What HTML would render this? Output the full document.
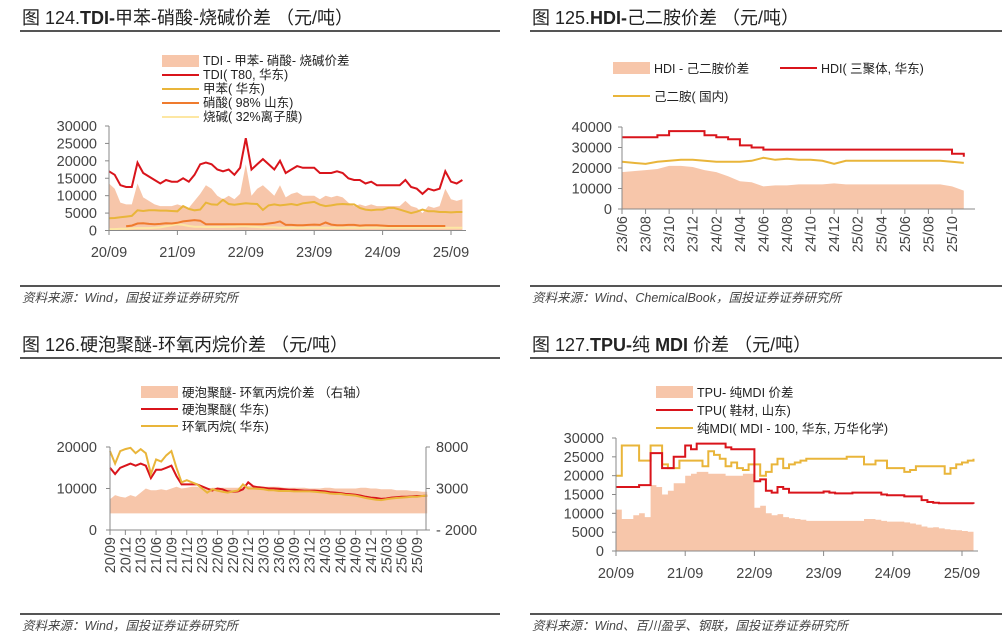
<!DOCTYPE html>
<html><head><meta charset="utf-8">
<style>
html,body{margin:0;padding:0;background:#fff;}
svg{display:block;font-family:"Liberation Sans","Noto Sans CJK SC",sans-serif;}
.t{font-size:18px;fill:#222;}
.src{font-size:12.5px;fill:#444;font-style:italic;}
.tick{font-size:14.5px;fill:#444;}
.lg{font-size:12.5px;fill:#222;}
</style></head>
<body>
<svg id="c" width="1002" height="640" viewBox="0 0 1002 640">
<g><text class="t" x="22" y="24">图 124.<tspan font-weight="bold">TDI-</tspan>甲苯-硝酸-烧碱价差 （元/吨）</text><line x1="20" y1="31" x2="500" y2="31" stroke="#555" stroke-width="2"/></g>
<g><text class="t" x="532" y="24">图 125.<tspan font-weight="bold">HDI-</tspan>己二胺价差 （元/吨）</text><line x1="530" y1="31" x2="1002" y2="31" stroke="#555" stroke-width="2"/></g>
<g><text class="t" x="22" y="351">图 126.硬泡聚醚-环氧丙烷价差 （元/吨）</text><line x1="20" y1="358" x2="500" y2="358" stroke="#555" stroke-width="2"/></g>
<g><text class="t" x="532" y="351">图 127.<tspan font-weight="bold">TPU-</tspan>纯 <tspan font-weight="bold">MDI</tspan> 价差 （元/吨）</text><line x1="530" y1="358" x2="1002" y2="358" stroke="#555" stroke-width="2"/></g>
<g><line x1="20" y1="286" x2="500" y2="286" stroke="#555" stroke-width="2"/><text class="src" x="22" y="302">资料来源：Wind，国投证券证券研究所</text></g>
<g><line x1="530" y1="286" x2="1002" y2="286" stroke="#555" stroke-width="2"/><text class="src" x="532" y="302">资料来源：Wind、ChemicalBook，国投证券证券研究所</text></g>
<g><line x1="20" y1="614" x2="500" y2="614" stroke="#555" stroke-width="2"/><text class="src" x="22" y="630">资料来源：Wind，国投证券证券研究所</text></g>
<g><line x1="530" y1="614" x2="1002" y2="614" stroke="#555" stroke-width="2"/><text class="src" x="532" y="630">资料来源：Wind、百川盈孚、钢联，国投证券证券研究所</text></g>
</svg>
<script>
// ===== Panel 124 data (monthly 20/09 .. 25/11) =====
const p1Ticks=[0,5000,10000,15000,20000,25000,30000];
const p1XLabels=["20/09","21/09","22/09","23/09","24/09","25/09"];
const p1Spread=[13500,12000,8000,7500,7500,13500,9500,8500,7500,7000,7000,7000,7500,7000,6500,8500,10500,13000,12000,10000,9000,10000,9000,10500,19000,10000,12000,13000,11500,10000,13000,9500,10500,11000,10000,10000,10000,9000,10000,9500,10000,9500,8000,7000,7500,7000,7500,7000,7000,7000,7000,7000,8500,7000,6500,5000,7000,6500,7000,12000,9000,8500,9000];
const p1TDI=[17000,16000,13000,12500,12500,19500,16500,15500,14500,13500,14500,14000,14000,15000,14000,16000,19000,19500,19000,17500,17000,17500,16000,18000,26500,17500,19000,20500,19000,17500,20000,16500,17500,18500,18000,18000,18000,16500,16500,16500,17000,16500,15000,14500,14500,13500,14000,13000,13000,13000,13000,13000,14500,12500,12000,10500,12000,11500,12000,17000,14000,13500,14500];
const p1Toluene=[3500,3600,3800,4000,4200,5800,5600,5800,5800,5700,5700,5600,5500,7000,6200,5800,6000,8000,7500,7400,8800,7600,7400,7600,7800,7700,7600,5900,7200,7500,7200,7400,7600,7300,7800,8000,8200,7400,7000,7200,7500,7600,7500,7500,6500,6000,5800,6000,6000,6500,6500,6000,5500,5000,5400,6000,5500,5500,5300,5300,5200,5300,5300];
const p1Nitric=[null,null,null,1200,1400,2000,2100,1900,1800,1900,2100,2000,2200,2600,2800,3000,2800,1800,1800,1800,1800,1800,1800,1800,1800,1800,1800,1800,2000,2200,2600,1600,1600,1500,1500,1600,1700,1600,2300,1700,1500,1500,1600,1600,1400,1500,1500,1500,1400,1300,1300,1300,1300,1300,1300,1300,1300,1300,1300,1300,null,null,null];
const p1Caustic=[400,400,500,500,600,700,700,700,800,900,1200,1500,1800,1600,1300,1100,1100,1000,1000,1000,1000,1100,1100,1200,1200,1100,1000,900,900,900,800,800,800,800,800,800,800,800,800,800,800,800,800,800,800,800,800,800,800,800,800,800,800,800,800,800,800,800,800,800,800,800,800];
// ===== Panel 125 data (monthly 23/06 .. 25/11) =====
const p2Ticks=[0,10000,20000,30000,40000];
const p2XLabels=["23/06","23/08","23/10","23/12","24/02","24/04","24/06","24/08","24/10","24/12","25/02","25/04","25/06","25/08","25/10"];
const p2Spread=[18000,18500,19000,19500,21000,21000,20500,19000,18000,16000,13500,13000,11000,11500,11500,12000,12000,12000,12500,12000,12000,12000,12000,12000,12000,12000,12000,12000,11000,9000];
const p2HDI=[35000,35000,35000,36000,38000,38000,38000,36000,35000,34000,31000,30000,29000,29000,29000,29000,29000,29000,29000,29000,29000,29000,29000,29000,29000,29000,29000,29000,27000,25500];
const p2HMDA=[23000,22500,22000,23000,23500,24000,24000,23500,23000,23000,23000,23500,25000,24000,24500,24000,24000,23500,22000,23500,23500,23500,23500,23500,23500,23500,23500,23500,23000,22500];
// ===== Panel 126 data (monthly 20/09 .. 25/11) =====
const p3LeftTicks=[0,10000,20000];
const p3RightTicks=[-2000,3000,8000];
const p3XLabels=["20/09","20/12","21/03","21/06","21/09","21/12","22/03","22/06","22/09","22/12","23/03","23/06","23/09","23/12","24/03","24/06","24/09","24/12","25/03","25/06","25/09"];
const p3Spread=[1700,2200,2000,1900,2200,2000,2500,3000,2800,2800,2900,2800,3000,3200,3000,3100,3200,3200,3000,3000,3100,3100,3100,3100,3100,3100,3200,3300,3300,3300,3200,3200,3200,3200,3100,3100,3100,3100,3100,3000,3000,3000,3100,3100,3000,3000,3000,3000,3000,3100,3100,3000,3000,2900,2900,2900,2800,2800,2800,2700,2700,2600,2600];
const p3Polyether=[15000,13500,15000,15500,16000,15500,16000,15500,12500,14500,14500,15000,15500,13000,11000,11000,11000,11000,10500,10000,9500,10000,9800,9300,9200,9300,9800,11500,10500,10300,10200,10000,10000,9900,9800,9700,9700,9600,9500,9500,9500,9400,9300,9100,9000,8900,8700,8600,8500,8300,8000,7800,7700,7500,7600,7800,7900,8000,8000,8100,8200,8200,8300];
const p3PO=[19000,16000,19000,19500,19800,18500,19500,18500,13500,17000,16500,18000,19000,15000,11500,12000,11500,11000,10000,9000,9800,9500,9200,9000,9300,9500,11000,10000,10000,9900,9800,9600,9600,9400,9400,9400,9300,9300,9300,9300,9200,9100,9000,8800,8700,8700,8500,8400,8300,8000,7700,7500,7300,7200,7400,7600,7700,7800,7900,8000,8000,8200,8300];
// ===== Panel 127 data (monthly 20/09 .. 25/11) =====
const p4Ticks=[0,5000,10000,15000,20000,25000,30000];
const p4XLabels=["20/09","21/09","22/09","23/09","24/09","25/09"];
const p4Spread=[11000,8500,8500,9500,10000,9000,17500,17000,15000,16000,18000,18000,20000,20500,21000,21000,20500,20500,20500,20000,20000,20000,20500,20500,11500,12000,10000,9500,9800,9000,8700,8500,8300,8000,8000,8000,8000,8000,8000,8000,8000,8000,8000,8500,8500,8300,8000,7800,7800,7800,7600,7300,7000,6500,6200,6300,6000,5800,5600,5500,5300,5100,5000];
const p4TPU=[17000,17000,17000,17000,17500,17500,26000,26000,22000,22000,25000,25000,28000,27000,28500,28500,28500,28500,28500,27500,27000,27000,27000,27000,18500,19000,16000,15500,17000,16500,15500,15500,15500,15500,15500,15500,15800,15500,15300,15300,15300,15500,15500,15500,15500,15500,15000,14800,14800,14800,14500,14500,14500,13500,13000,12800,12700,12700,12700,12700,12700,12700,12500];
const p4MDI=[20000,28000,28000,28000,24000,24000,28000,28000,23000,22000,22000,24000,24000,24000,24000,22500,26500,25500,24500,22500,23500,22000,21500,23000,23000,20000,21000,23000,24500,22000,23000,23500,24000,24500,24500,24500,24500,24500,24500,24500,25000,25000,25000,23000,23000,24000,24000,22000,22000,22000,21000,21500,22500,22500,22500,22500,22500,20500,22000,23000,23500,24000,24500];

const NS="http://www.w3.org/2000/svg";
const svg=document.getElementById('c');
function el(tag,attrs,parent){const e=document.createElementNS(NS,tag);for(const k in attrs)e.setAttribute(k,attrs[k]);(parent||svg).appendChild(e);return e;}
function lin(d0,d1,r0,r1){return v=>r0+(v-d0)*(r1-r0)/(d1-d0);}
function pathFor(vals,xs,ys,step){let d="",on=false,prevY=null;vals.forEach((v,i)=>{if(v==null){on=false;return;}const x=xs(i),y=ys(v);if(!on){d+="M"+x.toFixed(1)+","+y.toFixed(1);on=true;}else{if(step)d+="L"+x.toFixed(1)+","+prevY.toFixed(1);d+="L"+x.toFixed(1)+","+y.toFixed(1);}prevY=y;});return d;}
function areaFor(vals,xs,ys,base,step){let d="M"+xs(0).toFixed(1)+","+base;let prevY=null;vals.forEach((v,i)=>{const x=xs(i),y=ys(v);if(step&&prevY!=null)d+="L"+x.toFixed(1)+","+prevY.toFixed(1);d+="L"+x.toFixed(1)+","+y.toFixed(1);prevY=y;});d+="L"+xs(vals.length-1).toFixed(1)+","+base+"Z";return d;}
const AREA="#f7c6aa",RED="#d9141b",YEL="#e9b53a",ORG="#ef7b2e",LYEL="#fde7a3";

// ---------- Panel 124 ----------
(function(){
 const g=el('g',{});
 
 
 const xs=lin(0,60,109,451), ys=lin(0,30000,230.5,126);
 const a=el('path',{d:areaFor(p1Spread,xs,ys,230.5,false),fill:AREA},g);
 
 [[p1Caustic,LYEL,'caustic-soda-line'],[p1Nitric,ORG,'nitric-acid-line'],[p1Toluene,YEL,'toluene-line'],[p1TDI,RED,'tdi-price-line']].forEach(s=>{
  const p=el('path',{d:pathFor(s[0],xs,ys,false),fill:'none',stroke:s[1],'stroke-width':2},g);
  });
 el('line',{x1:109,y1:126,x2:109,y2:231,stroke:'#888'},g);
 el('line',{x1:109,y1:230.5,x2:466,y2:230.5,stroke:'#888'},g);
 p1Ticks.forEach(t=>{el('line',{x1:105,x2:109,y1:ys(t),y2:ys(t),stroke:'#888'},g);const tx=el('text',{class:'tick',x:97,y:ys(t)+5,'text-anchor':'end'},g);tx.textContent=t;
  });
 p1XLabels.forEach((l,i)=>{const x=xs(i*12);el('line',{x1:x,x2:x,y1:230,y2:235,stroke:'#888'},g);const tx=el('text',{class:'tick',x:x,y:257,'text-anchor':'middle'},g);tx.textContent=l;
  });
 const lg=[['TDI - 甲苯- 硝酸- 烧碱价差','area'],['TDI( T80, 华东)',RED],['甲苯( 华东)',YEL],['硝酸( 98% 山东)',ORG],['烧碱( 32%离子膜)',LYEL]];
 lg.forEach((e,i)=>{const y=61+i*14;const le=el('g',{},g);
  
  if(e[1]=='area')el('rect',{x:162,y:y-6,width:37,height:12,fill:AREA},le);else el('line',{x1:162,x2:199,y1:y,y2:y,stroke:e[1],'stroke-width':2},le);
  const tx=el('text',{class:'lg',x:203,y:y+4},le);tx.textContent=e[0];});
})();

// ---------- Panel 125 ----------
(function(){
 const g=el('g',{});
 
 
 const xs=lin(0,28,622,952), ys=lin(0,40000,209,127);
 const a=el('path',{d:areaFor(p2Spread,xs,ys,209,false),fill:AREA},g);
 
 const p1=el('path',{d:pathFor(p2HMDA,xs,ys,false),fill:'none',stroke:YEL,'stroke-width':2},g);
 
 const p2=el('path',{d:pathFor(p2HDI,xs,ys,true),fill:'none',stroke:RED,'stroke-width':2},g);
 
 el('line',{x1:622,y1:127,x2:622,y2:209,stroke:'#888'},g);
 el('line',{x1:622,y1:209,x2:975,y2:209,stroke:'#888'},g);
 p2Ticks.forEach(t=>{el('line',{x1:618,x2:622,y1:ys(t),y2:ys(t),stroke:'#888'},g);const tx=el('text',{class:'tick',x:612,y:ys(t)+5,'text-anchor':'end'},g);tx.textContent=t;
  });
 p2XLabels.forEach((l,i)=>{const x=xs(i*2);el('line',{x1:x,x2:x,y1:209,y2:214,stroke:'#888'},g);const tx=el('text',{class:'tick',transform:`translate(${x+5},216) rotate(-90)`,'text-anchor':'end'},g);tx.textContent=l;
  });
 const lg=[['HDI - 己二胺价差','area',613,68],['HDI( 三聚体, 华东)',RED,780,68],['己二胺( 国内)',YEL,613,96]];
 lg.forEach(e=>{const le=el('g',{},g);
  
  if(e[1]=='area')el('rect',{x:e[2],y:e[3]-6,width:37,height:12,fill:AREA},le);else el('line',{x1:e[2],x2:e[2]+37,y1:e[3],y2:e[3],stroke:e[1],'stroke-width':2},le);
  const tx=el('text',{class:'lg',x:e[2]+41,y:e[3]+5},le);tx.textContent=e[0];});
})();

// ---------- Panel 126 ----------
(function(){
 const g=el('g',{});
 
 
 const xs=lin(0,60,110,417), ys=lin(0,20000,530,447), yr=lin(-2000,8000,530,447);
 const a=el('path',{d:areaFor(p3Spread,xs,yr,yr(0).toFixed(1),false),fill:AREA},g);
 
 const p1=el('path',{d:pathFor(p3Polyether,xs,ys,false),fill:'none',stroke:RED,'stroke-width':2},g);
 
 const p2=el('path',{d:pathFor(p3PO,xs,ys,false),fill:'none',stroke:YEL,'stroke-width':2},g);
 
 el('line',{x1:110,y1:447,x2:110,y2:530,stroke:'#888'},g);
 el('line',{x1:426,y1:447,x2:426,y2:530,stroke:'#888'},g);
 el('line',{x1:110,y1:530,x2:426,y2:530,stroke:'#888'},g);
 p3LeftTicks.forEach(t=>{el('line',{x1:106,x2:110,y1:ys(t),y2:ys(t),stroke:'#888'},g);const tx=el('text',{class:'tick',x:97,y:ys(t)+5,'text-anchor':'end'},g);tx.textContent=t;
  });
 p3RightTicks.forEach(t=>{el('line',{x1:426,x2:430,y1:yr(t),y2:yr(t),stroke:'#888'},g);const tx=el('text',{class:'tick',x:436,y:yr(t)+5},g);tx.textContent=(t<0?'- '+(-t):t);
  });
 p3XLabels.forEach((l,i)=>{const x=xs(i*3);el('line',{x1:x,x2:x,y1:530,y2:535,stroke:'#888'},g);const tx=el('text',{class:'tick',transform:`translate(${x+5},537) rotate(-90)`,'text-anchor':'end'},g);tx.textContent=l;
  });
 const lg=[['硬泡聚醚- 环氧丙烷价差 （右轴）','area'],['硬泡聚醚( 华东)',RED],['环氧丙烷( 华东)',YEL]];
 lg.forEach((e,i)=>{const y=392+i*17;const le=el('g',{},g);
  
  if(e[1]=='area')el('rect',{x:141,y:y-6,width:37,height:12,fill:AREA},le);else el('line',{x1:141,x2:178,y1:y,y2:y,stroke:e[1],'stroke-width':2},le);
  const tx=el('text',{class:'lg',x:182,y:y+5},le);tx.textContent=e[0];});
})();

// ---------- Panel 127 ----------
(function(){
 const g=el('g',{});
 
 
 const xs=lin(0,60,616,962), ys=lin(0,30000,551,438);
 const a=el('path',{d:areaFor(p4Spread,xs,ys,551,true),fill:AREA},g);
 
 const p2=el('path',{d:pathFor(p4MDI,xs,ys,true),fill:'none',stroke:YEL,'stroke-width':2},g);
 
 const p1=el('path',{d:pathFor(p4TPU,xs,ys,true),fill:'none',stroke:RED,'stroke-width':2},g);
 
 el('line',{x1:616,y1:438,x2:616,y2:551,stroke:'#888'},g);
 el('line',{x1:616,y1:551,x2:978,y2:551,stroke:'#888'},g);
 p4Ticks.forEach(t=>{el('line',{x1:612,x2:616,y1:ys(t),y2:ys(t),stroke:'#888'},g);const tx=el('text',{class:'tick',x:604,y:ys(t)+5,'text-anchor':'end'},g);tx.textContent=t;
  });
 p4XLabels.forEach((l,i)=>{const x=xs(i*12);el('line',{x1:x,x2:x,y1:551,y2:556,stroke:'#888'},g);const tx=el('text',{class:'tick',x:x,y:578,'text-anchor':'middle'},g);tx.textContent=l;
  });
 const lg=[['TPU- 纯MDI 价差','area'],['TPU( 鞋材, 山东)',RED],['纯MDI( MDI - 100, 华东, 万华化学)',YEL]];
 lg.forEach((e,i)=>{const y=392+i*18;const le=el('g',{},g);
  
  if(e[1]=='area')el('rect',{x:656,y:y-6,width:37,height:12,fill:AREA},le);else el('line',{x1:656,x2:693,y1:y,y2:y,stroke:e[1],'stroke-width':2},le);
  const tx=el('text',{class:'lg',x:697,y:y+5},le);tx.textContent=e[0];});
})();
</script>
</body></html>
